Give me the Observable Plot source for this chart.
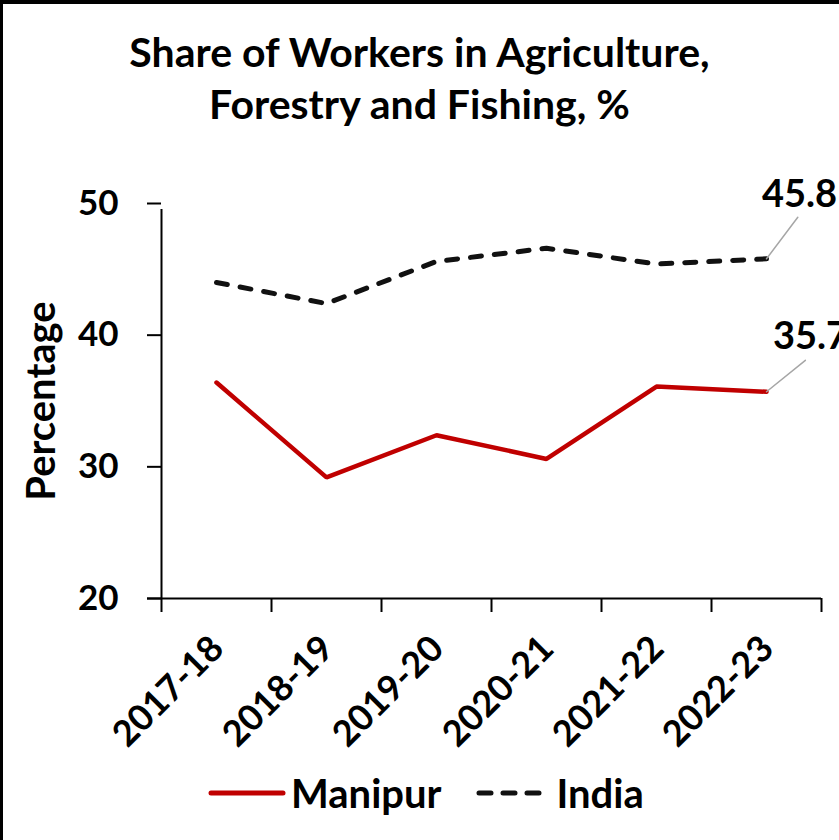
<!DOCTYPE html>
<html><head><meta charset="utf-8">
<script src="https://cdn.jsdelivr.net/npm/d3@7"></script>
<script src="https://cdn.jsdelivr.net/npm/@observablehq/plot@0.6"></script>
<style>
body{margin:0;background:#fff;}
#wrap{position:relative;width:839px;height:840px;overflow:hidden;font-family:Lato,"Open Sans",sans-serif;font-weight:700;color:#000;background:#fff;}
#frame{position:absolute;left:0;top:0;width:839px;height:840px;border-left:3px solid #000;border-top:4px solid #000;box-sizing:border-box;pointer-events:none;}
#title{position:absolute;top:26px;left:0;width:839px;text-align:center;font-size:41px;line-height:52px;}
#chart{position:absolute;left:0;top:0;}
#legend{position:absolute;top:768px;left:208px;display:flex;align-items:center;font-size:40px;line-height:50px;white-space:nowrap;}
#legend svg{display:block;}
</style></head>
<body>
<div id="wrap">
  <div id="chart"></div>
  <div id="title">Share of Workers in Agriculture,<br>Forestry and Fishing, %</div>
  <div id="legend">
    <svg width="78" height="10"><line x1="3" y1="5" x2="75" y2="5" stroke="#c00000" stroke-width="5" stroke-linecap="round"/></svg>
    <span style="margin-left:5px">Manipur</span>
    <svg width="71" height="10" style="margin-left:34px"><line x1="3" y1="5" x2="68" y2="5" stroke="#111" stroke-width="5" stroke-linecap="round" stroke-dasharray="12,12"/></svg>
    <span style="margin-left:10px">India</span>
  </div>
  <div id="frame"></div>
</div>
<script>
const years = ["2017-18","2018-19","2019-20","2020-21","2021-22","2022-23"];
const manipur = [36.4, 29.2, 32.4, 30.6, 36.1, 35.7];
const india = [44.0, 42.4, 45.6, 46.6, 45.4, 45.8];
const yTicks = [20, 30, 40, 50];

const mRows = years.map((y, i) => ({i, year: y, value: manipur[i]}));
const iRows = years.map((y, i) => ({i, year: y, value: india[i]}));
const mLast = [mRows[mRows.length - 1]];
const iLast = [iRows[iRows.length - 1]];
const bounds = years.map((_, i) => i - 0.5).concat([years.length - 0.5]);
const centers = years.map((_, i) => i);
const leader = {draw(ctx, l) { ctx.moveTo(0, 0); ctx.lineTo(0, -l); }};

const chart = Plot.plot({
  width: 839,
  height: 720,
  marginLeft: 161,
  marginRight: 18,
  marginTop: 203,
  marginBottom: 122,
  style: {fontFamily: "Lato, 'Open Sans', sans-serif", fontWeight: 700, color: "#000", background: "transparent", overflow: "visible"},
  x: {type: "linear", domain: [-0.5, years.length - 0.5]},
  y: {domain: [20, 50]},
  marks: [
    Plot.axisY({ticks: yTicks, tickSize: 14, tickPadding: 29, fontSize: 35, fontWeight: 700, label: null, strokeWidth: 2}),
    Plot.axisX({ticks: bounds, tickSize: 14, tickFormat: () => "", label: null, strokeWidth: 2}),
    Plot.axisX({ticks: centers, tickSize: 0, tickFormat: i => years[i], tickRotate: -45, tickPadding: 44, fontSize: 36, fontWeight: 700, label: null, dx: 1}),
    Plot.ruleX([-0.5], {y1: 20, y2: 50, strokeWidth: 2, insetBottom: -6}),
    Plot.ruleY([20], {x1: -0.5, x2: years.length - 0.5, strokeWidth: 2, insetLeft: -14}),
    Plot.text(["Percentage"], {frameAnchor: "left", textAnchor: "middle", rotate: -90, dx: -119, dy: 0, fontSize: 40, fontWeight: 700, fill: "#000"}),
    Plot.line(iRows, {x: "i", y: "value", stroke: "#111", strokeWidth: 5, strokeDasharray: "11,13", strokeLinecap: "round", strokeLinejoin: "round"}),
    Plot.line(mRows, {x: "i", y: "value", stroke: "#c00000", strokeWidth: 4.5, strokeLinejoin: "miter"}),
    Plot.vector(iLast, {x: "i", y: "value", length: 52, rotate: 37, anchor: "start", shape: leader, stroke: "#a6a6a6", strokeWidth: 1.5}),
    Plot.vector(mLast, {x: "i", y: "value", length: 50, rotate: 51, anchor: "start", shape: leader, stroke: "#a6a6a6", strokeWidth: 1.5}),
    Plot.text(iLast, {x: "i", y: "value", text: d => d.value.toFixed(1), dx: 33, dy: -64, fontSize: 38, fontWeight: 700, fill: "#000"}),
    Plot.text(mLast, {x: "i", y: "value", text: d => d.value.toFixed(1), dx: 44, dy: -55, fontSize: 38, fontWeight: 700, fill: "#000"})
  ]
});
document.getElementById("chart").appendChild(chart);
</script>
</body></html>
